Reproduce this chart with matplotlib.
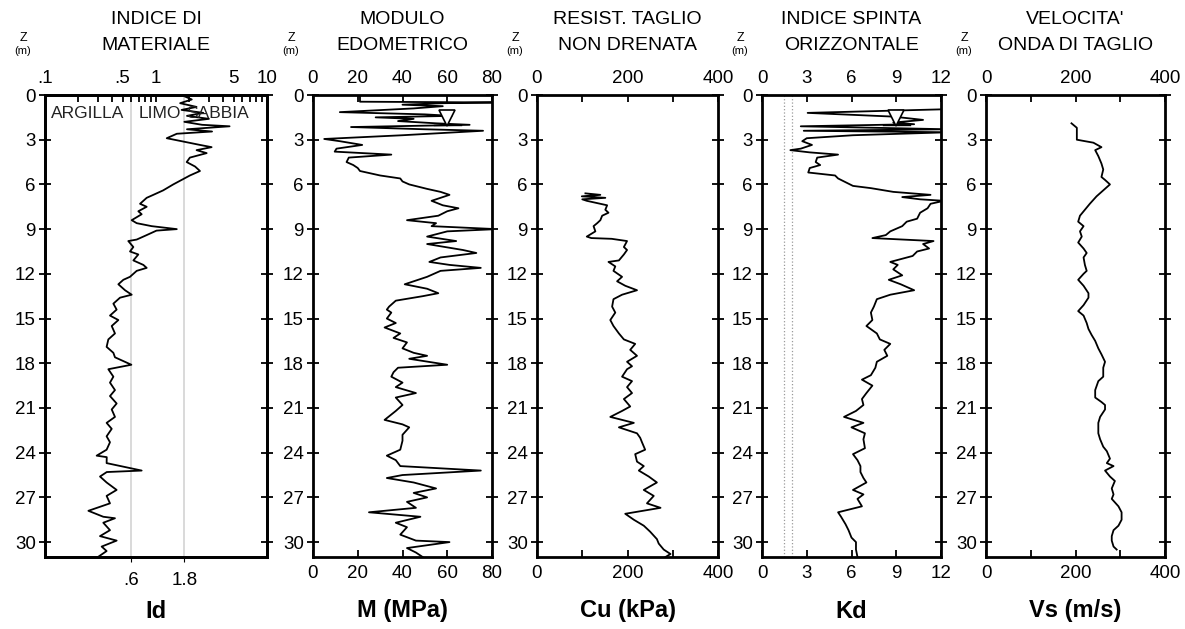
import matplotlib
matplotlib.use("Agg")
import matplotlib.pyplot as plt

plt.rcParams["font.family"] = ["Liberation Sans", "DejaVu Sans"]

# profondita' comuni
DEPTH_TICKS = [0, 3, 6, 9, 12, 15, 18, 21, 24, 27, 30]
DEPTH_MAX = 31.0
WATER_TABLE = 2.0

# Id - indice di materiale
ID_DEPTH = [0.1, 0.3, 0.55, 0.8, 1.0, 1.2, 1.4, 1.6, 1.8, 2.0, 2.1, 2.3, 2.45, 2.6, 2.9,
            3.1, 3.35, 3.5, 3.7, 3.9, 4.2, 4.5, 4.8, 5.1, 5.4, 5.7, 6.0, 6.4, 6.7, 6.9,
            7.3, 7.5, 7.8, 8.0, 8.4, 8.6, 8.8, 9.0, 9.1, 9.4, 9.7, 9.8, 10.2, 10.5, 10.7,
            11.1, 11.4, 11.6, 11.8, 12.2, 12.4, 12.7, 13.1, 13.4, 13.6, 14.0, 14.4, 14.8,
            15.1, 15.5, 16.0, 16.4, 16.9, 17.3, 17.6, 18.1, 18.4, 18.9, 19.3, 19.8, 20.2,
            20.7, 21.1, 21.6, 22.0, 22.4, 22.9, 23.3, 23.8, 24.2, 24.3, 24.7, 25.2, 25.3,
            25.6, 26.0, 26.5, 26.9, 27.4, 27.9, 28.3, 28.4, 28.7, 29.2, 29.6, 29.9, 30.3,
            30.6, 31.0]
ID_VALUE = [1.82, 2.10, 1.65, 2.32, 1.70, 2.67, 1.90, 3.00, 1.80, 2.60, 4.60, 1.90, 3.20, 1.54, 1.25,
            1.70, 2.49, 3.17, 2.32, 2.86, 2.02, 1.89, 2.25, 2.49, 2.02, 1.70, 1.43, 1.16, 0.946, 0.824,
            0.718, 0.824, 0.693, 0.743, 0.604, 0.670, 0.914, 1.54, 1.01, 0.824, 0.670, 0.563, 0.625, 0.583, 0.693,
            0.625, 0.769, 0.824, 0.670, 0.583, 0.508, 0.458, 0.526, 0.604, 0.474, 0.413, 0.442, 0.385,
            0.458, 0.399, 0.427, 0.372, 0.359, 0.413, 0.427, 0.600, 0.372, 0.413, 0.385, 0.427, 0.385,
            0.442, 0.399, 0.427, 0.359, 0.399, 0.359, 0.385, 0.359, 0.292, 0.360, 0.359, 0.743, 0.360,
            0.313, 0.359, 0.442, 0.359, 0.385, 0.246, 0.335, 0.427, 0.335, 0.385, 0.313, 0.442, 0.324,
            0.359, 0.300]
ID_LIMITS = [0.6, 1.8]
ID_ZONES = ["ARGILLA", "LIMO", "SABBIA"]

# M - modulo edometrico (MPa)
M_DEPTH = [0.05, 0.45, 0.5, 0.55, 0.65, 0.75, 0.9, 1.15, 1.3, 1.4, 1.5, 1.6, 1.75, 1.9, 2.0,
           2.15, 2.3, 2.4, 2.55, 2.7, 2.95, 3.1, 3.35, 3.6, 3.8, 4.0, 4.2, 4.5, 4.7, 4.9,
           5.1, 5.4, 5.6, 5.8, 6.0, 6.3, 6.5, 6.7, 6.9, 7.1, 7.4, 7.6, 7.8, 8.1, 8.4,
           8.6, 8.8, 9.0, 9.15, 9.5, 9.8, 10.0, 10.4, 10.6, 10.9, 11.2, 11.4, 11.6, 11.8, 12.2,
           12.5, 12.7, 13.0, 13.3, 13.5, 13.8, 14.2, 14.4, 14.6, 15.0, 15.3, 15.6, 16.0, 16.3, 16.6,
           17.0, 17.3, 17.5, 17.7, 18.1, 18.3, 18.6, 18.9, 19.3, 19.6, 20.0, 20.3, 20.8, 21.2, 21.8,
           22.1, 22.3, 22.8, 23.2, 23.8, 24.2, 24.5, 24.9, 25.2, 25.5, 25.7, 26.0, 26.4, 26.7, 27.0,
           27.3, 27.7, 28.0, 28.3, 28.7, 29.0, 29.5, 29.9, 30.0, 30.4, 30.7, 31.0]
M_VALUE = [21, 21, 82, 58, 40, 58, 45, 12, 50, 62, 28, 45, 38, 55, 70,
           17, 50, 76, 58, 40, 5, 12, 22, 10.5, 9.7, 35, 16, 15, 18, 20,
           21, 30, 39, 40, 43, 51, 57, 61, 57, 53, 58, 65, 60, 56, 42,
           55, 53, 82, 60, 51, 64, 51, 67, 73, 57, 52, 61, 75, 57, 51,
           45, 41, 51, 56, 49, 37, 34, 33, 35, 33, 37, 32, 39, 36, 42,
           40, 45, 51, 43, 60, 38, 36, 35, 40, 37, 46, 37, 40, 37, 32,
           40, 43, 40, 40, 39, 33, 37, 39, 75, 40, 33, 45, 55, 45, 51,
           42, 46, 25, 48, 37, 42, 39, 46, 61, 42, 46, 49]
M_WATER = 60

# Cu - resistenza al taglio non drenata (kPa)
CU_DEPTH = [6.6, 6.7, 6.8, 6.9, 7.0, 7.1, 7.4, 7.7, 7.9, 8.1, 8.4, 8.6, 8.8, 9.15, 9.5,
            9.6, 9.65, 9.8, 10.2, 10.4, 10.7, 11.1, 11.2, 11.5, 11.8, 12.2, 12.5, 12.8, 13.1, 13.4,
            13.7, 14.2, 14.6, 15.1, 15.5, 16.0, 16.4, 16.7, 17.1, 17.5, 17.9, 18.2, 18.4, 18.9, 19.2,
            19.6, 20.0, 20.4, 20.9, 21.2, 21.6, 22.0, 22.3, 22.7, 23.0, 23.3, 23.8, 24.1, 24.6, 24.9,
            25.2, 25.6, 26.0, 26.5, 26.9, 27.4, 27.7, 28.1, 28.5, 28.9, 29.3, 29.8, 30.1, 30.5, 30.8,
            31.0]
CU_VALUE = [107, 140, 99, 151, 100, 110, 155, 151, 158, 144, 140, 133, 125, 129, 110,
            120, 165, 199, 192, 199, 192, 181, 158, 173, 169, 188, 177, 195, 221, 188,
            169, 166, 173, 162, 169, 181, 192, 217, 206, 221, 199, 210, 199, 188, 210,
            199, 210, 192, 206, 188, 162, 214, 181, 221, 228, 232, 239, 217, 221, 236,
            225, 247, 265, 236, 258, 243, 273, 195, 214, 236, 250, 265, 269, 280, 295,
            284]

# Kd - indice di spinta orizzontale
KD_DEPTH = [0.95, 1.2, 1.45, 1.67, 1.85, 1.96, 2.1, 2.3, 2.4, 2.5, 2.7, 2.9, 3.1, 3.35, 3.6,
            3.7, 3.85, 4.0, 4.2, 4.5, 4.7, 4.9, 5.2, 5.4, 5.6, 5.8, 6.1, 6.25, 6.5, 6.7,
            6.85, 7.0, 7.1, 7.3, 7.6, 7.9, 8.3, 8.5, 8.8, 9.15, 9.4, 9.6, 9.8, 10.0, 10.3,
            10.5, 10.8, 11.2, 11.4, 11.7, 12.1, 12.4, 12.7, 13.1, 13.4, 13.7, 14.2, 14.6, 15.1, 15.5,
            16.0, 16.4, 16.7, 17.1, 17.5, 17.9, 18.3, 18.8, 19.1, 19.5, 20.0, 20.4, 20.8, 21.2, 21.6,
            22.0, 22.3, 22.7, 23.1, 23.7, 24.1, 24.5, 24.9, 25.3, 25.7, 26.0, 26.5, 26.8, 27.1, 27.6,
            28.0, 28.3, 28.8, 29.2, 29.7, 30.0, 30.5, 31.0]
KD_VALUE = [12.5, 3.06, 8.8, 10.8, 8.8, 10.2, 2.6, 12.5, 2.8, 12.5, 6.1, 3.0, 2.7, 3.35, 2.6,
            1.9, 3.2, 5.1, 3.7, 3.6, 3.9, 3.2, 3.1, 4.9, 5.1, 5.5, 6.1, 7.3, 8.8, 11.3,
            9.4, 10.6, 12.2, 11.3, 11.1, 10.6, 10.4, 9.7, 9.4, 8.6, 8.3, 7.4, 11.5, 10.8, 11.2,
            10.4, 10.1, 8.6, 9.1, 8.8, 9.4, 8.5, 9.3, 10.2, 8.6, 7.7, 7.5, 7.3, 7.4, 7.0,
            7.7, 7.9, 8.6, 8.2, 8.4, 7.7, 7.6, 7.3, 6.7, 7.4, 7.0, 6.7, 6.8, 6.3, 5.5,
            6.8, 6.0, 6.9, 6.8, 6.9, 6.1, 6.4, 6.6, 6.6, 6.8, 7.0, 6.1, 6.8, 6.4, 6.7,
            5.1, 5.3, 5.6, 5.8, 6.0, 6.3, 6.3, 6.4]
KD_LIMITS = [1.5, 2.0]
KD_WATER = 9

# Vs - velocita' onda di taglio (m/s)
VS_DEPTH = [1.9, 2.2, 2.6, 3.0, 3.2, 3.5, 3.7, 4.1, 4.6, 5.0, 5.5, 5.7, 6.0, 6.4, 6.8,
            7.3, 7.7, 8.1, 8.5, 8.8, 9.15, 9.5, 9.9, 10.3, 10.6, 10.9, 11.4, 11.8, 12.0, 12.4,
            12.8, 13.3, 13.6, 14.1, 14.5, 14.8, 15.3, 15.7, 16.1, 16.5, 17.0, 17.4, 17.9, 18.3, 18.9,
            19.2, 19.8, 20.3, 20.6, 20.8, 21.1, 21.6, 22.0, 22.7, 23.1, 23.6, 23.9, 24.4, 24.7, 24.9,
            25.2, 25.6, 25.9, 26.4, 26.8, 27.1, 27.6, 28.0, 28.5, 28.9, 29.2, 29.6, 29.9, 30.3, 30.5]
VS_VALUE = [191, 203, 203, 203, 240, 258, 244, 251, 258, 262, 258, 266, 277, 262, 247,
            232, 221, 210, 206, 218, 210, 214, 206, 218, 225, 218, 221, 225, 218, 206,
            218, 229, 229, 218, 206, 218, 225, 229, 236, 244, 251, 258, 266, 262, 262,
            251, 244, 244, 258, 266, 266, 255, 251, 251, 255, 262, 270, 277, 270, 285,
            266, 277, 288, 281, 285, 281, 296, 303, 303, 296, 285, 281, 281, 285, 292]

TITLES = [["INDICE DI", "MATERIALE"], ["MODULO", "EDOMETRICO"], ["RESIST. TAGLIO", "NON DRENATA"],
          ["INDICE SPINTA", "ORIZZONTALE"], ["VELOCITA'", "ONDA DI TAGLIO"]]
XLABELS = ["Id", "M (MPa)", "Cu (kPa)", "Kd", "Vs (m/s)"]

W, H = 1185, 629
PANELS_PX = [(45, 267), (313, 492), (537, 718), (762, 941), (986, 1165)]
TOP_PX, BOTTOM_PX = 95, 557
TICK_FS = 13.5

fig = plt.figure(figsize=(W / 100, H / 100), dpi=100)


def make_axes(x0, x1):
    return fig.add_axes([x0 / W, 1 - BOTTOM_PX / H, (x1 - x0) / W, (BOTTOM_PX - TOP_PX) / H])


def style_depth(ax):
    ax.set_ylim(DEPTH_MAX, 0)
    ax.set_yticks(DEPTH_TICKS)
    ax.tick_params(axis="y", which="both", direction="inout", length=9, width=1.3,
                   left=True, right=True, labelleft=True, labelright=False,
                   labelsize=TICK_FS, pad=2)
    for s in ax.spines.values():
        s.set_linewidth(2)


def style_x(ax, lim, major, minor):
    ax.set_xlim(*lim)
    ax.set_xticks(major)
    ax.set_xticks(minor, minor=True)
    ax.tick_params(axis="x", which="both", direction="in", length=5, width=1.3,
                   top=True, bottom=True, labeltop=True, labelbottom=True,
                   labelsize=TICK_FS, pad=6)


axes = [make_axes(x0, x1) for x0, x1 in PANELS_PX]
for ax in axes:
    style_depth(ax)

# pannello 1: Id su scala log
ax = axes[0]
ax.set_xscale("log")
ax.set_xlim(0.1, 10)
for v in ID_LIMITS:
    ax.axvline(v, color="#cfcfcf", lw=1.1, zorder=1)
ax.plot(ID_VALUE, ID_DEPTH, color="k", lw=1.3, zorder=3)
ax.set_xticks(ID_LIMITS)
ax.set_xticklabels([".6", "1.8"])
ax.xaxis.set_minor_locator(matplotlib.ticker.NullLocator())
ax.tick_params(axis="x", which="both", bottom=False, top=False, labelsize=TICK_FS, pad=7)
top = ax.twiny()
top.set_xscale("log")
top.set_xlim(0.1, 10)
top.set_xticks([0.1, 0.5, 1, 5, 10])
top.set_xticklabels([".1", ".5", "1", "5", "10"])
top.set_xticks([0.2, 0.3, 0.4, 0.6, 0.7, 0.8, 0.9, 2, 3, 4, 6, 7, 8, 9], minor=True)
top.tick_params(axis="x", which="both", direction="in", length=5, width=1.3,
                top=True, labeltop=True, labelsize=TICK_FS, pad=6)
top.xaxis.set_minor_formatter(matplotlib.ticker.NullFormatter())
for s in top.spines.values():
    s.set_linewidth(2)
for x_frac, name in zip([0.027, 0.42, 0.635], ID_ZONES):
    ax.text(x_frac, 0.959, name, transform=ax.transAxes, fontsize=12.5, color="#222222",
            va="center", ha="left", zorder=4)

# pannello 2: M
ax = axes[1]
style_x(ax, (0, 80), [0, 20, 40, 60, 80], [])
ax.plot(M_VALUE, M_DEPTH, color="k", lw=1.3)
ax.plot([M_WATER], [WATER_TABLE - 0.45], marker="v", ms=11, mfc="white", mec="k", mew=1.2)
ax.plot([M_WATER - 6, M_WATER + 6], [WATER_TABLE, WATER_TABLE], color="k", lw=1)

# pannello 3: Cu
ax = axes[2]
style_x(ax, (0, 400), [0, 200, 400], [100, 300])
ax.plot(CU_VALUE, CU_DEPTH, color="k", lw=1.3)

# pannello 4: Kd
ax = axes[3]
style_x(ax, (0, 12), [0, 3, 6, 9, 12], [])
for v in KD_LIMITS:
    ax.axvline(v, color="#9a9a9a", lw=0.9, ls=":", zorder=1)
ax.plot(KD_VALUE, KD_DEPTH, color="k", lw=1.3)
ax.plot([KD_WATER], [WATER_TABLE - 0.45], marker="v", ms=11, mfc="white", mec="k", mew=1.2)
ax.plot([KD_WATER - 0.9, KD_WATER + 0.9], [WATER_TABLE, WATER_TABLE], color="k", lw=1)

# pannello 5: Vs
ax = axes[4]
style_x(ax, (0, 400), [0, 200, 400], [100, 300])
ax.plot(VS_VALUE, VS_DEPTH, color="k", lw=1.3)

# titoli, etichette
for (x0, x1), title, label in zip(PANELS_PX, TITLES, XLABELS):
    xc = (x0 + x1) / 2 / W
    fig.text(xc, 1 - 19 / H, title[0], ha="center", va="center", fontsize=14)
    fig.text(xc, 1 - 45 / H, title[1], ha="center", va="center", fontsize=14)
    fig.text(xc, 1 - 611 / H, label, ha="center", va="center", fontsize=17, fontweight="bold")
    fig.text((x0 - 22) / W, 1 - 38 / H, "Z", ha="center", va="center", fontsize=9)
    fig.text((x0 - 22) / W, 1 - 51 / H, "(m)", ha="center", va="center", fontsize=8)

fig.savefig("out.png", dpi=100)
